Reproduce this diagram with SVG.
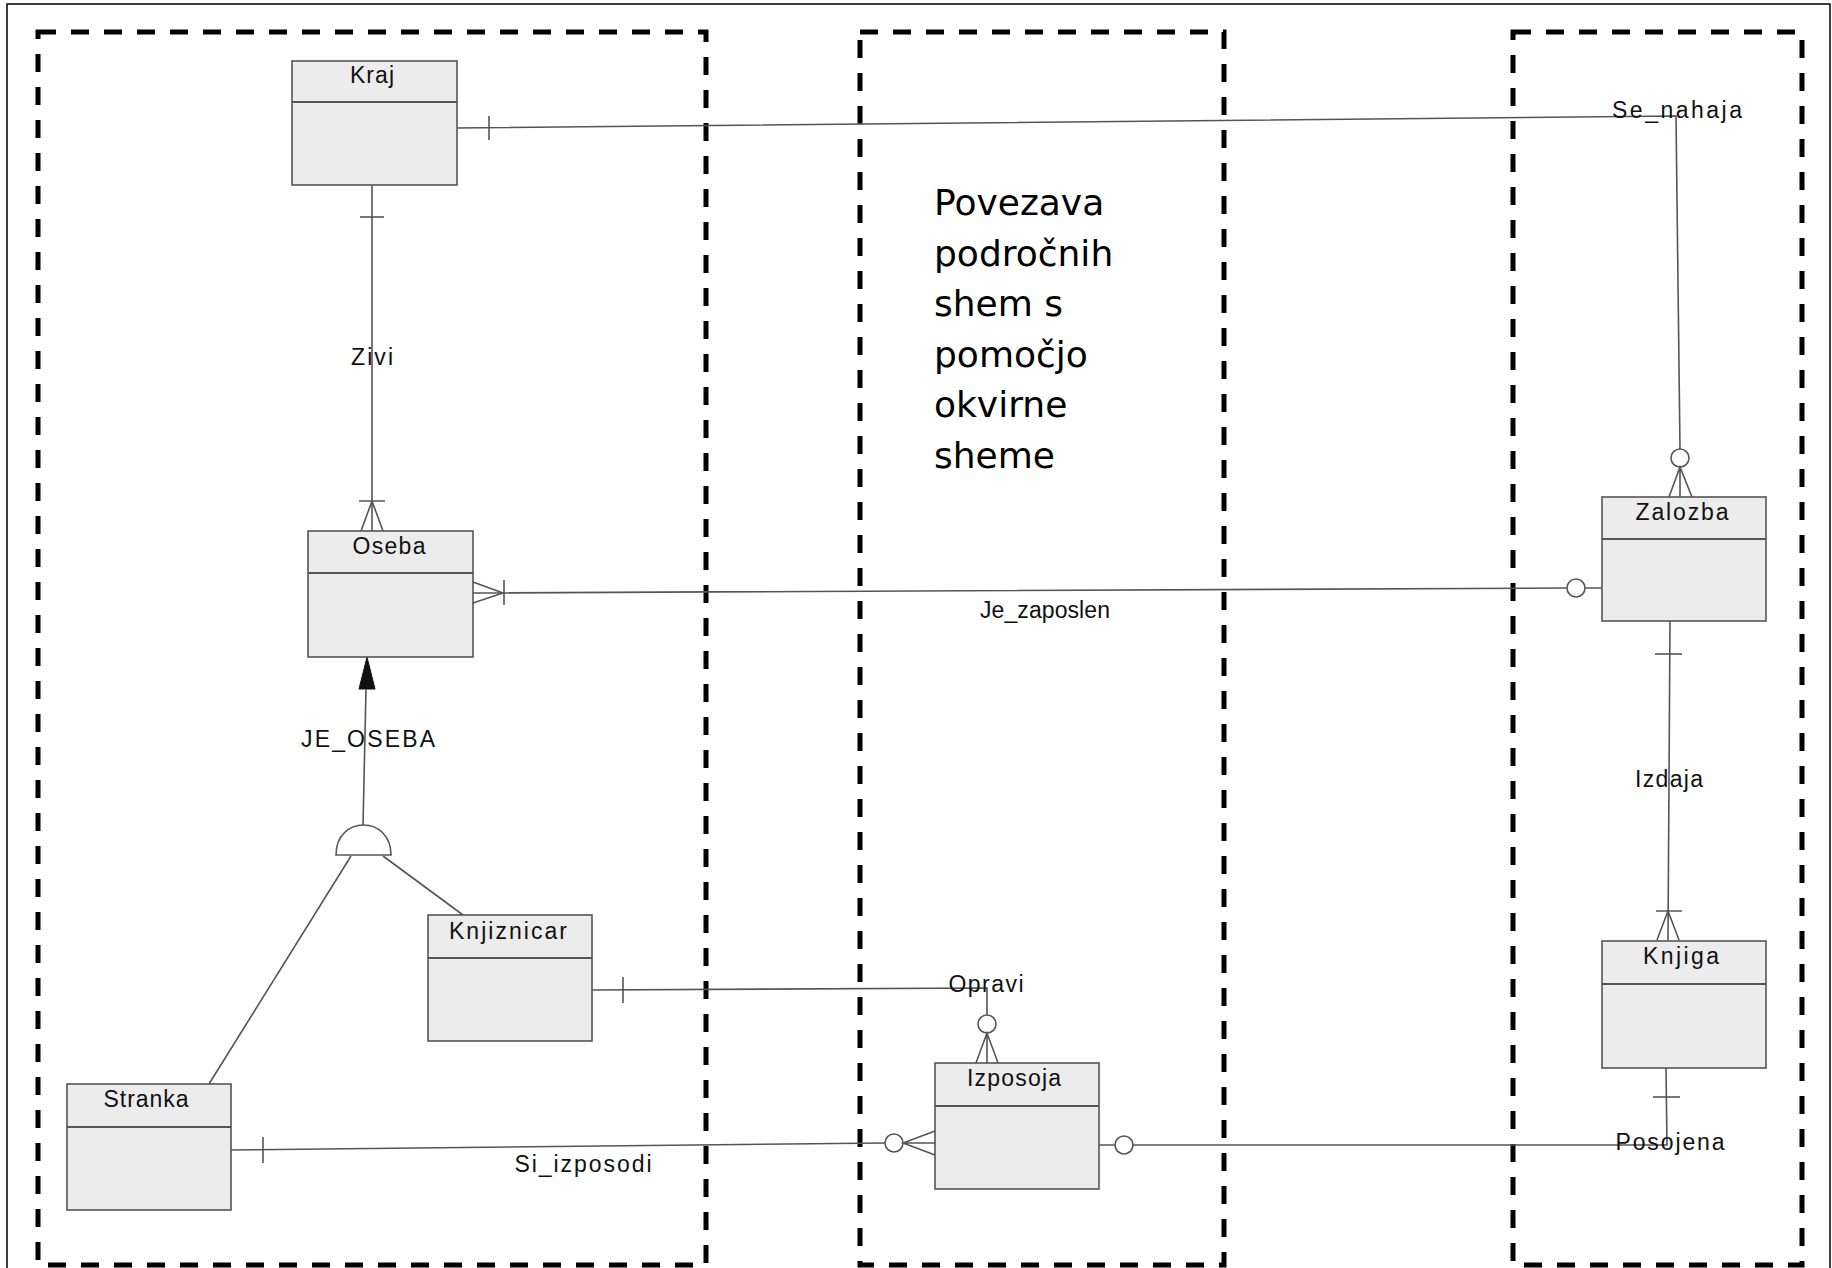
<svg xmlns="http://www.w3.org/2000/svg" width="1832" height="1268" viewBox="0 0 1832 1268">
<style>
.frame{fill:none;stroke:#000;stroke-width:1.5}
.zone{fill:none;stroke:#000;stroke-width:5;stroke-dasharray:18 15}
.ent{fill:#ececec;stroke:#555;stroke-width:1.6}
.div{stroke:#555;stroke-width:2}
.ename{font-family:"Liberation Sans",Arial,sans-serif;font-size:23px;fill:#111;text-anchor:middle}
.c{fill:none;stroke:#555;stroke-width:1.6}
.o{fill:#fff;stroke:#555;stroke-width:1.6}
.lbl{font-family:"Liberation Sans",Arial,sans-serif;font-size:23px;fill:#111;text-anchor:middle}
.note{font-family:"DejaVu Sans",Verdana,sans-serif;font-size:36px;fill:#000}
</style>
<rect x="0" y="0" width="1832" height="1268" fill="#fff"/>
<rect class="frame" x="7" y="4" width="1823" height="1300"/>
<g id="zones">
<rect class="zone" x="38" y="32" width="668" height="1233"/>
<rect class="zone" x="860" y="32" width="364" height="1233"/>
<rect class="zone" x="1513" y="32" width="289" height="1233"/>
</g>
<g id="note">
<text class="note" x="934" y="215">Povezava</text>
<text class="note" x="934" y="265.5">področnih</text>
<text class="note" x="934" y="316">shem s</text>
<text class="note" x="934" y="366.5">pomočjo</text>
<text class="note" x="934" y="417">okvirne</text>
<text class="note" x="934" y="467.5">sheme</text>
</g>
<g id="connectors">
<path class="c" d="M456,128 L1676,116 L1680,449"/>
<path class="c" d="M489,116 V140"/>
<circle class="o" cx="1680" cy="458" r="9"/>
<path class="c" d="M1680,467 V497 M1669,497 L1680,467 L1692,497"/>
<path class="c" d="M372,185 V531"/>
<path class="c" d="M360,217 H384"/>
<path class="c" d="M359,501 H385 M361,531 L372,501 L383,531"/>
<path class="c" d="M473,593 L1567,588 M1585,588 H1602"/>
<path class="c" d="M473,582 L503,593 L473,603"/>
<path class="c" d="M504,580 V605"/>
<circle class="o" cx="1576" cy="588" r="9"/>
<path d="M367,657 L375,689 L359,689 Z" fill="#111" stroke="#111" stroke-width="1"/>
<path class="c" d="M366,689 L363,826"/>
<path class="o" d="M336,855 C336,815 391,815 391,855 Z"/>
<path class="c" d="M351,856 L209,1084 M383,856 L463,915"/>
<path class="c" d="M592,990 L987,988 V1015"/>
<path class="c" d="M623,977 V1003"/>
<circle class="o" cx="987" cy="1024" r="9"/>
<path class="c" d="M987,1033 V1063 M976,1063 L987,1033 L998,1063"/>
<path class="c" d="M231,1150 L885,1143"/>
<path class="c" d="M263,1137 V1163"/>
<circle class="o" cx="894" cy="1143" r="9"/>
<path class="c" d="M903,1143 H935 M935,1131 L903,1143 L935,1155"/>
<path class="c" d="M1099,1145 H1115 M1133,1145 H1667 L1666,1068"/>
<circle class="o" cx="1124" cy="1145" r="9"/>
<path class="c" d="M1653,1097 H1680"/>
<path class="c" d="M1670,621 L1668,940"/>
<path class="c" d="M1655,654 H1682"/>
<path class="c" d="M1656,911 H1682 M1657,940 L1668,911 L1679,940"/>
</g>
<g id="labels">
<text class="lbl" x="1677" y="118" textLength="130" lengthAdjust="spacing">Se_nahaja</text>
<text class="lbl" x="372" y="365" textLength="42" lengthAdjust="spacing">Zivi</text>
<text class="lbl" x="1045" y="618" textLength="130" lengthAdjust="spacing">Je_zaposlen</text>
<text class="lbl" x="368" y="747" textLength="134" lengthAdjust="spacing">JE_OSEBA</text>
<text class="lbl" x="986" y="992" textLength="75" lengthAdjust="spacing">Opravi</text>
<text class="lbl" x="583" y="1172" textLength="137" lengthAdjust="spacing">Si_izposodi</text>
<text class="lbl" x="1669" y="787" textLength="68" lengthAdjust="spacing">Izdaja</text>
<text class="lbl" x="1670" y="1150" textLength="109" lengthAdjust="spacing">Posojena</text>
</g>
<g id="Kraj">
<rect class="ent" x="292" y="61" width="165" height="124"/>
<line class="div" x1="292" y1="102" x2="457" y2="102"/>
<text class="ename" x="372" y="83" textLength="44" lengthAdjust="spacing">Kraj</text>
</g>
<g id="Oseba">
<rect class="ent" x="308" y="531" width="165" height="126"/>
<line class="div" x1="308" y1="573" x2="473" y2="573"/>
<text class="ename" x="389" y="554" textLength="73" lengthAdjust="spacing">Oseba</text>
</g>
<g id="Knjiznicar">
<rect class="ent" x="428" y="915" width="164" height="126"/>
<line class="div" x1="428" y1="958" x2="592" y2="958"/>
<text class="ename" x="508" y="939" textLength="118" lengthAdjust="spacing">Knjiznicar</text>
</g>
<g id="Stranka">
<rect class="ent" x="67" y="1084" width="164" height="126"/>
<line class="div" x1="67" y1="1127" x2="231" y2="1127"/>
<text class="ename" x="146" y="1107" textLength="85" lengthAdjust="spacing">Stranka</text>
</g>
<g id="Izposoja">
<rect class="ent" x="935" y="1063" width="164" height="126"/>
<line class="div" x1="935" y1="1106" x2="1099" y2="1106"/>
<text class="ename" x="1014" y="1086" textLength="94" lengthAdjust="spacing">Izposoja</text>
</g>
<g id="Zalozba">
<rect class="ent" x="1602" y="497" width="164" height="124"/>
<line class="div" x1="1602" y1="539" x2="1766" y2="539"/>
<text class="ename" x="1682" y="520" textLength="93" lengthAdjust="spacing">Zalozba</text>
</g>
<g id="Knjiga">
<rect class="ent" x="1602" y="941" width="164" height="127"/>
<line class="div" x1="1602" y1="984" x2="1766" y2="984"/>
<text class="ename" x="1681" y="964" textLength="76" lengthAdjust="spacing">Knjiga</text>
</g>
</svg>
